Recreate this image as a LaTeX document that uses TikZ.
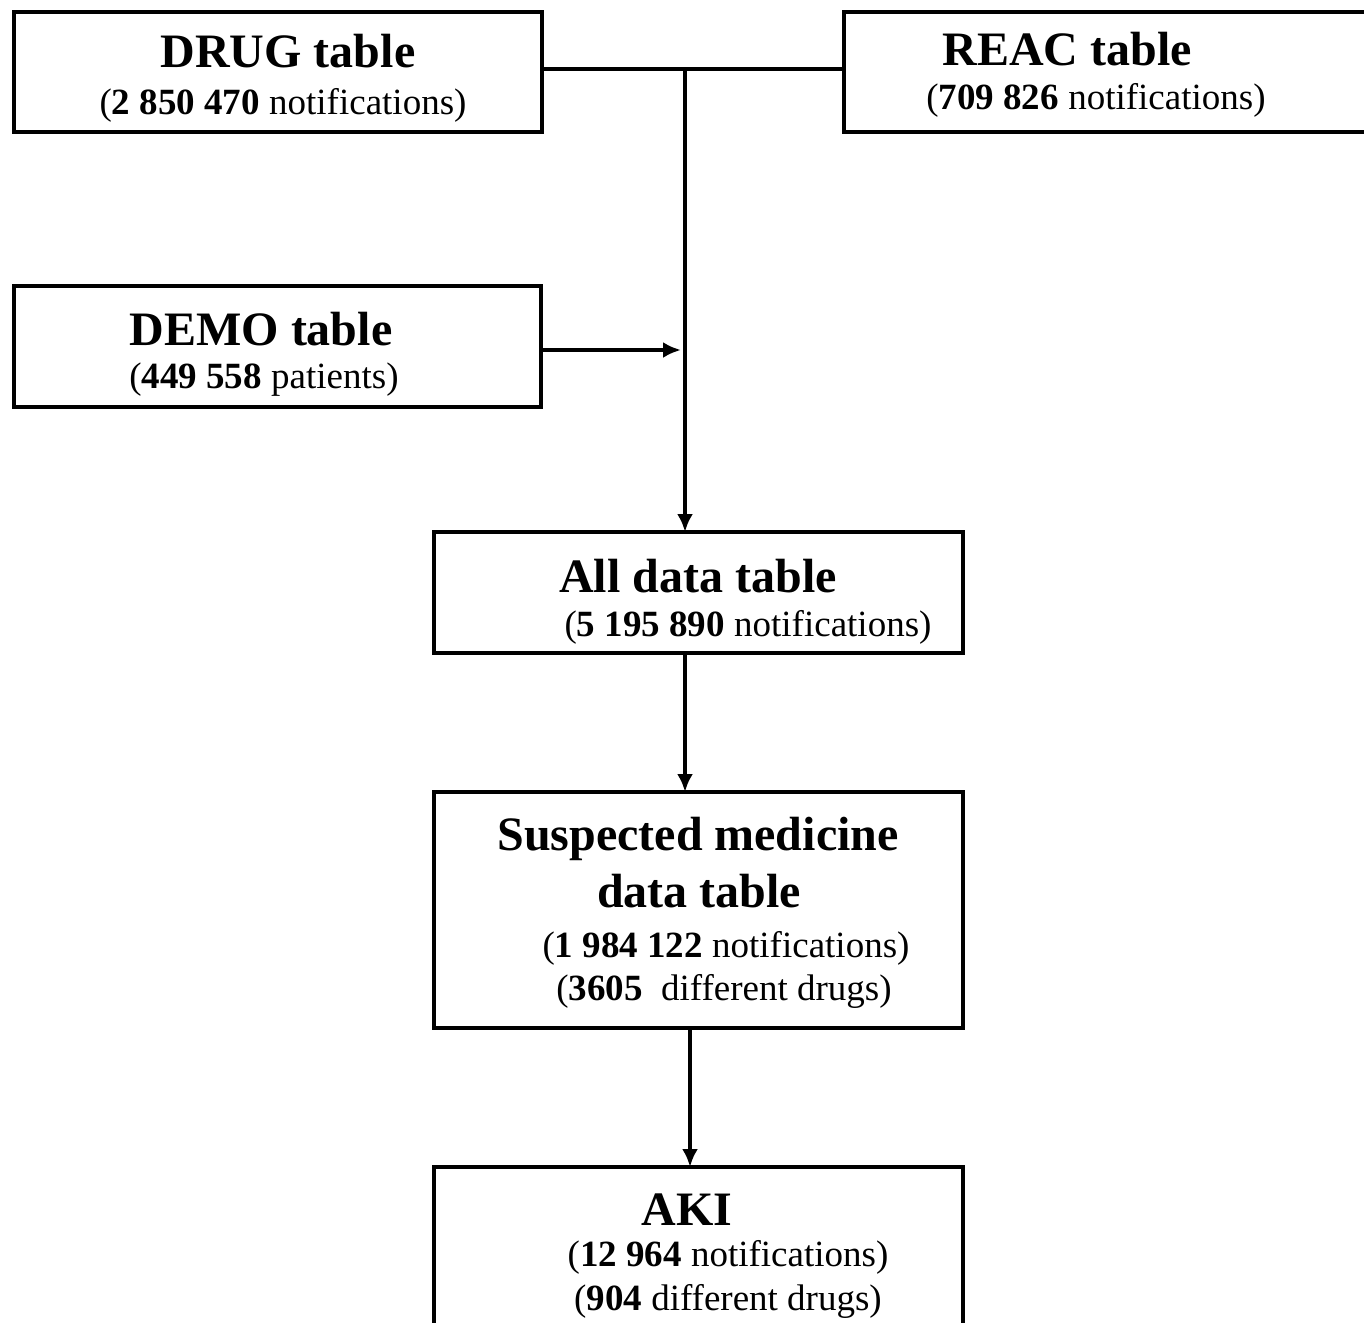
\documentclass[tikz,border=0pt]{standalone}
\usepackage{fontspec}
\setmainfont{Liberation Serif}
\usetikzlibrary{arrows.meta}
\begin{document}
\begin{tikzpicture}[x=0.5pt,y=-0.5pt,line width=2.3pt,
  box/.style={draw,line width=2.3pt,anchor=north west,inner sep=0pt,outer sep=0pt},
  ttl/.style={anchor=base,inner sep=0pt,font=\fontsize{24}{28}\selectfont\bfseries},
  sub/.style={anchor=base,inner sep=0pt,font=\fontsize{18.5}{22}\selectfont},
  arr/.style={-{Latex[length=9pt,width=8pt]},line width=2.3pt}]
\useasboundingbox (0,0) rectangle (1364,1322);
\clip (0,0) rectangle (1364,1322);
% boxes
\node[box,minimum width=264pt,minimum height=60pt] (drug) at (14,12) {};
\node[box,minimum width=278pt,minimum height=60pt] (reac) at (844,12) {};
\node[box,minimum width=263.5pt,minimum height=60.5pt] (demo) at (14,286) {};
\node[box,minimum width=264.5pt,minimum height=60.5pt] (all) at (434,532) {};
\node[box,minimum width=264.5pt,minimum height=118pt] (susp) at (434,792) {};
\node[box,minimum width=264.5pt,minimum height=116.5pt] (aki) at (434,1167) {};
% texts
\node[ttl] (drugT) at (288,68) {DRUG table};
\node[sub] (drugS) at (283,114) {(\textbf{2 850 470} notifications)};
\node[ttl] (reacT) at (1067,66) {REAC table};
\node[sub] (reacS) at (1096,110) {(\textbf{709 826} notifications)};
\node[ttl] (demoT) at (261,345) {DEMO table};
\node[sub] (demoS) at (264,388) {(\textbf{449 558} patients)};
\node[ttl] (allT) at (698,592) {All data table};
\node[sub] (allS) at (748,636) {(\textbf{5 195 890} notifications)};
\node[ttl] (suspT1) at (698,850) {Suspected medicine};
\node[ttl] (suspT2) at (699,907) {data table};
\node[sub] (suspS1) at (726,957) {(\textbf{1 984 122} notifications)};
\node[sub] (suspS2) at (724,1000) {(\textbf{3605}\ \ different drugs)};
\node[ttl] (akiT) at (687,1225) {AKI};
\node[sub] (akiS1) at (728,1266) {(\textbf{12 964} notifications)};
\node[sub] (akiS2) at (728,1310) {(\textbf{904} different drugs)};
% connectors
\coordinate (j) at (685,69);
\coordinate (d) at (681,350);
\coordinate (k) at (690,0);
\draw (drug.east |- j) -- (reac.west |- j);
\draw[arr] (j) -- (all.north -| j);
\draw[arr] (demo.east |- d) -- (d);
\draw[arr] (all.south -| j) -- (susp.north -| j);
\draw[arr] (susp.south -| k) -- (aki.north -| k);
\end{tikzpicture}
\end{document}
